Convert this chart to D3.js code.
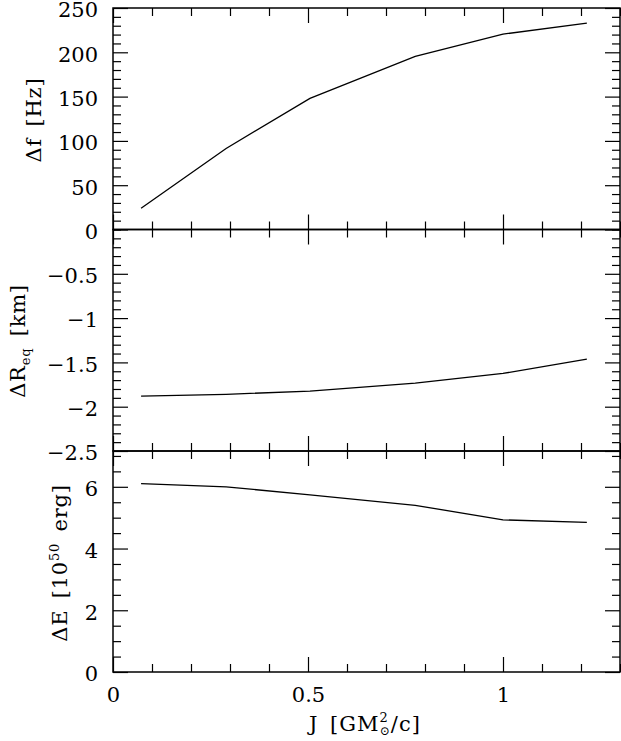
<!DOCTYPE html>
<html>
<head>
<meta charset="utf-8">
<script src="https://cdn.jsdelivr.net/npm/d3@7/dist/d3.min.js"></script>
<style>
  html, body { margin: 0; padding: 0; background: #fff; }
  svg { display: block; }
  text { font-family: "DejaVu Serif", "Liberation Serif", serif; fill: #000; }
</style>
</head>
<body>
<svg id="chart" width="621" height="741"></svg>
<script>
// ---- data ----
const J = [0.072, 0.29, 0.505, 0.775, 1.0, 1.215];
const deltaF = [24, 91.5, 148, 195.5, 220.5, 233];
const deltaReq = [-1.88, -1.86, -1.825, -1.735, -1.625, -1.462];
const deltaE = [6.10, 6.00, 5.74, 5.40, 4.93, 4.85];

const xMajorTicks = [0, 0.5, 1];
const fMajorTicks = [50, 100, 150, 200, 250];
const rMajorTicks = [0, -0.5, -1, -1.5, -2, -2.5];
const eMajorTicks = [0, 2, 4, 6];

// ---- layout ----
const left = 113, right = 620;
const tops = [8, 229.5, 451, 672];
const FONT = 21;

const svg = d3.select("#chart");
const x = d3.scaleLinear().domain([0, 1.3]).range([left, right]);

const panels = [
  { values: deltaF, domain: [0, 250], major: fMajorTicks, minor: d3.range(0, 251, 10) },
  { values: deltaReq, domain: [-2.5, 0], major: rMajorTicks, minor: d3.range(-25, 1, 1).map(d => d / 10) },
  { values: deltaE, domain: [0, 7.16], major: eMajorTicks, minor: d3.range(0, 7.2, 0.5) }
];

const fmt = d3.format("~g");
const xMinor = d3.range(0, 14, 1).map(d => d / 10);

function style(g) {
  g.select(".domain").remove();
  g.attr("font-family", "DejaVu Serif").attr("font-size", FONT);
  g.selectAll(".tick line").attr("stroke", "#000").attr("stroke-width", 1.2);
  g.selectAll(".tick text").attr("fill", "#000");
}

panels.forEach((p, i) => {
  const y0 = tops[i], y1 = tops[i + 1];
  const y = d3.scaleLinear().domain(p.domain).range([y1, y0]);
  p.y = y;
  const g = svg.append("g");

  // left major with labels
  g.append("g").attr("transform", `translate(${left},0)`)
    .call(d3.axisLeft(y).tickValues(p.major).tickSize(-15).tickPadding(15).tickFormat(fmt))
    .call(style)
    .call(a => a.selectAll(".tick text").attr("dy", "0.42em"));
  g.append("g").attr("transform", `translate(${left},0)`)
    .call(d3.axisLeft(y).tickValues(p.minor.filter(v => !p.major.includes(v))).tickSize(-8).tickFormat(""))
    .call(style);
  // right
  g.append("g").attr("transform", `translate(${right},0)`)
    .call(d3.axisRight(y).tickValues(p.major).tickSize(-15).tickFormat(""))
    .call(style);
  g.append("g").attr("transform", `translate(${right},0)`)
    .call(d3.axisRight(y).tickValues(p.minor.filter(v => !p.major.includes(v))).tickSize(-8).tickFormat(""))
    .call(style);
  // top
  g.append("g").attr("transform", `translate(0,${y0})`)
    .call(d3.axisTop(x).tickValues(xMajorTicks).tickSize(-15).tickFormat(""))
    .call(style);
  g.append("g").attr("transform", `translate(0,${y0})`)
    .call(d3.axisTop(x).tickValues(xMinor.filter(v => !xMajorTicks.includes(v))).tickSize(-8).tickFormat(""))
    .call(style);
  // bottom
  const bot = d3.axisBottom(x).tickValues(xMajorTicks).tickSize(-15).tickPadding(15)
    .tickFormat(i === 2 ? fmt : "");
  g.append("g").attr("transform", `translate(0,${y1})`).call(bot).call(style);
  g.append("g").attr("transform", `translate(0,${y1})`)
    .call(d3.axisBottom(x).tickValues(xMinor.filter(v => !xMajorTicks.includes(v))).tickSize(-8).tickFormat(""))
    .call(style);

  // frame
  g.append("rect").attr("x", left).attr("y", y0).attr("width", right - left).attr("height", y1 - y0)
    .attr("fill", "none").attr("stroke", "#000").attr("stroke-width", 1.5);

  // data line
  const line = d3.line().x((d, k) => x(J[k])).y(d => y(d));
  g.append("path").datum(p.values).attr("d", line)
    .attr("fill", "none").attr("stroke", "#000").attr("stroke-width", 1.3);
});

// ---- axis titles ----
const SP = "\u2002";
const t1 = svg.append("text").attr("transform", "translate(41,120) rotate(-90)")
  .attr("text-anchor", "middle").attr("font-size", FONT).attr("letter-spacing", 0.8);
t1.text("Δf" + SP + "[Hz]");

const t2 = svg.append("text").attr("transform", "translate(25,341) rotate(-90)")
  .attr("text-anchor", "middle").attr("font-size", FONT).attr("letter-spacing", 0.8);
t2.append("tspan").text("ΔR");
t2.append("tspan").attr("font-size", 13).attr("dy", 5).text("eq");
t2.append("tspan").attr("dy", -5).text(SP + "[km]");

const t3 = svg.append("text").attr("transform", "translate(67,563) rotate(-90)")
  .attr("text-anchor", "middle").attr("font-size", FONT).attr("letter-spacing", 0.8);
t3.append("tspan").text("ΔE" + SP + "[10");
t3.append("tspan").attr("font-size", 13).attr("dy", -8).text("50");
t3.append("tspan").attr("dy", 8).text(SP + "erg]");

const t4 = svg.append("text").attr("x", 365).attr("y", 731)
  .attr("text-anchor", "middle").attr("font-size", FONT).attr("letter-spacing", 1);
t4.append("tspan").text("J" + SP + "[GM");
t4.append("tspan").attr("font-size", 13).attr("dy", -9).text("2");
t4.append("tspan").attr("font-size", 12).attr("dx", -9).attr("dy", 13).text("⊙");
t4.append("tspan").attr("dy", -4).text("/c]");
</script>
</body>
</html>
